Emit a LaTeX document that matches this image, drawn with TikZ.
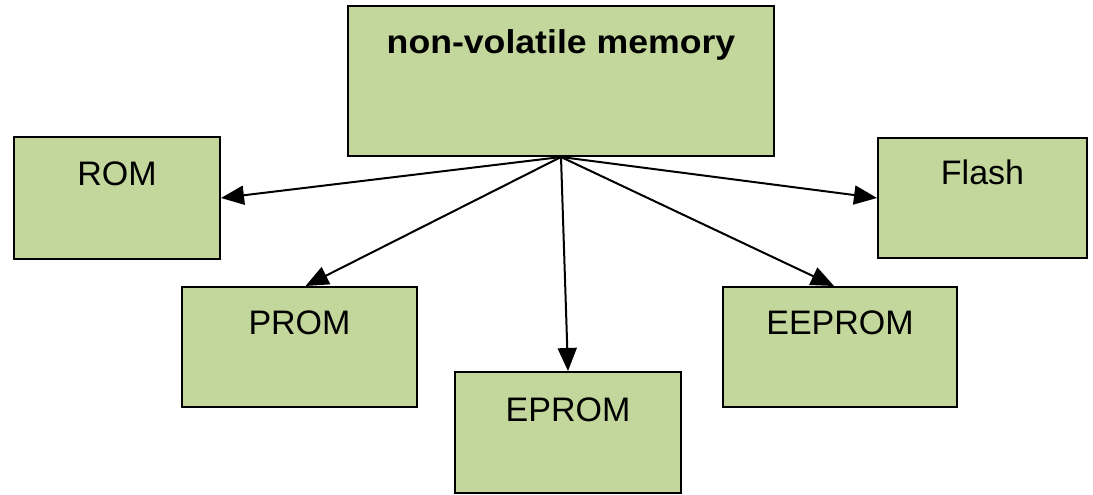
\documentclass[tikz,border=0pt]{standalone}
\usepackage{fontspec}
\usepackage{graphicx}
\setmainfont{Liberation Sans}
\usetikzlibrary{arrows.meta}
\definecolor{boxgreen}{HTML}{C3D69B}
\begin{document}
\begin{tikzpicture}[x=1pt,y=-1pt,
  membox/.style={draw=black,fill=boxgreen,line width=2pt,inner sep=0pt,rectangle},
  memtext/.style={anchor=base,inner sep=0pt,font=\fontsize{34}{40}\selectfont},
  conn/.style={draw=black,line width=2pt,-{Triangle[length=23pt,width=19pt]}}]
\useasboundingbox (0,0) rectangle (1093,495);
\node[membox,minimum width=426pt,minimum height=150pt] (top) at (561,81) {};
\node[membox,minimum width=206pt,minimum height=122pt] (rom) at (117,198) {};
\node[membox,minimum width=209pt,minimum height=120pt] (flash) at (982.5,198) {};
\node[membox,minimum width=235pt,minimum height=120pt] (prom) at (299.5,347) {};
\node[membox,minimum width=234pt,minimum height=120pt] (eeprom) at (840,347) {};
\node[membox,minimum width=226pt,minimum height=121pt] (eprom) at (568,432.5) {};
\node[memtext,font=\fontsize{33}{40}\selectfont\bfseries] (toptxt) at ([yshift=-49pt]top.north) {\scalebox{1.08}[1]{non-volatile memory}};
\node[memtext] (romtxt) at ([yshift=-49pt]rom.north) {ROM};
\node[memtext] (flashtxt) at ([yshift=-47pt]flash.north) {Flash};
\node[memtext] (promtxt) at ([yshift=-48pt]prom.north) {PROM};
\node[memtext] (eepromtxt) at ([yshift=-48pt]eeprom.north) {EEPROM};
\node[memtext] (epromtxt) at ([yshift=-50pt]eprom.north) {EPROM};
\draw[conn] (top.south) -- (rom.east);
\draw[conn] (top.south) -- ([xshift=6pt]prom.north);
\draw[conn] (top.south) -- (eprom.north);
\draw[conn] (top.south) -- ([xshift=-6pt]eeprom.north);
\draw[conn] (top.south) -- (flash.west);
\end{tikzpicture}
\end{document}
